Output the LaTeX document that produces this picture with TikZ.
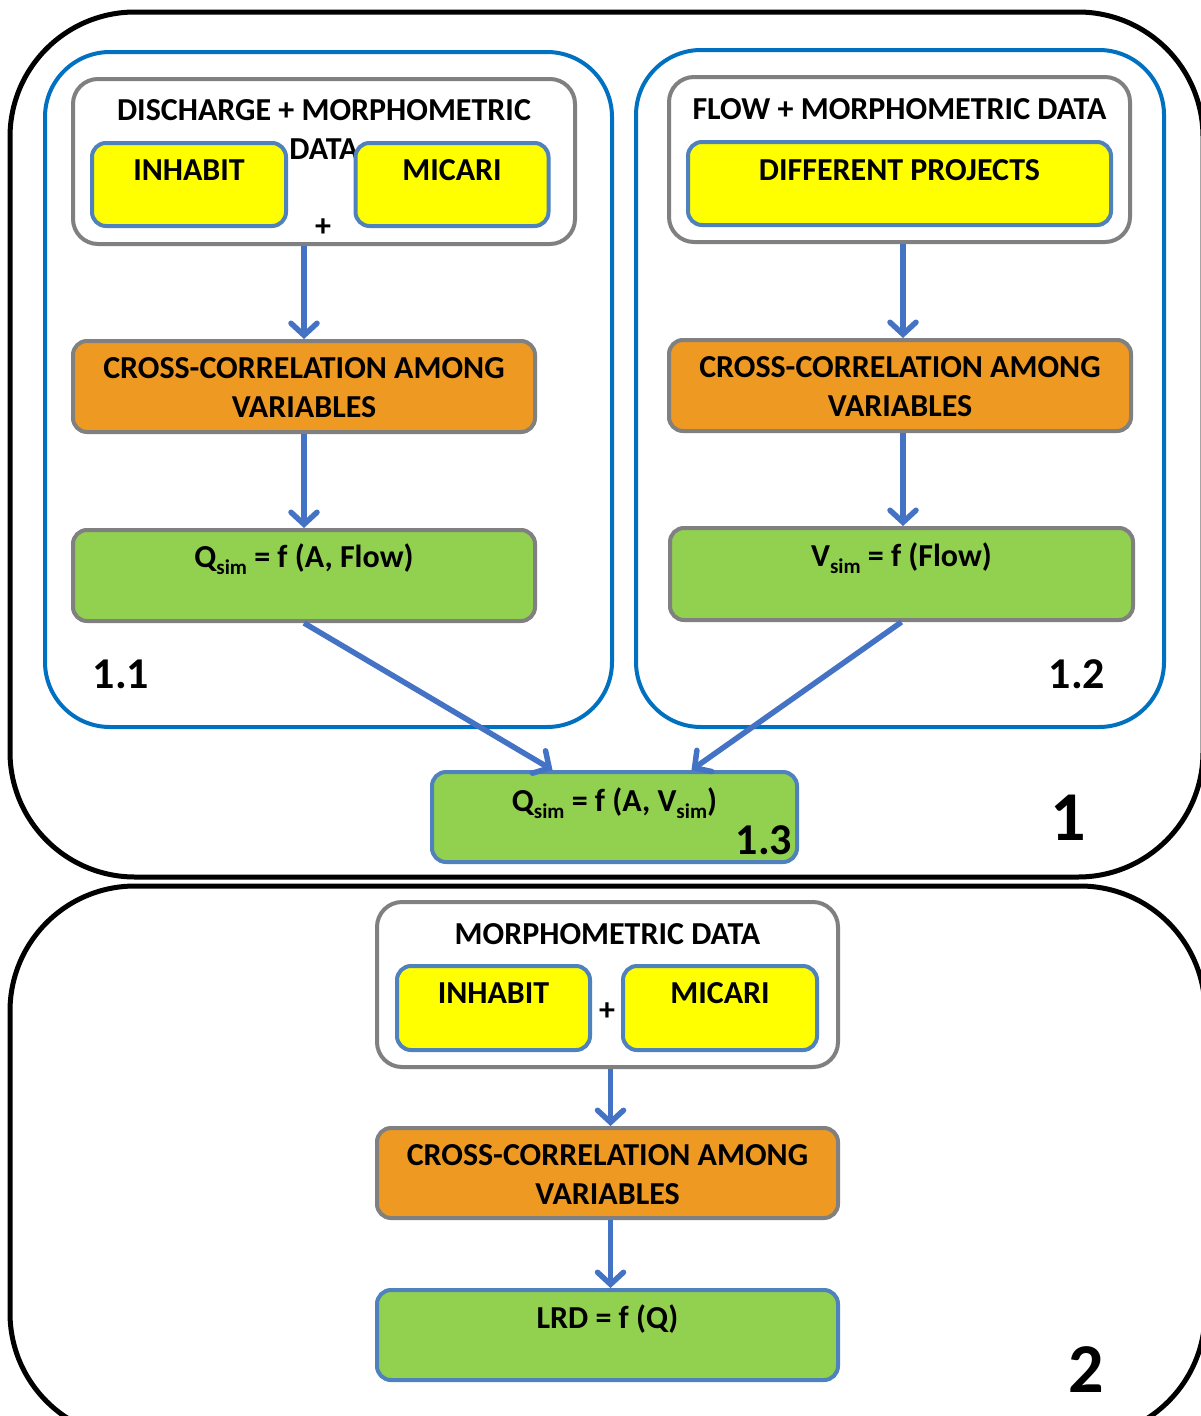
\documentclass[tikz,border=0pt]{standalone}
\usepackage{fontspec}
\setmainfont{Carlito}
\usetikzlibrary{arrows.meta,calc}
\definecolor{outerblue}{RGB}{0,112,192}
\definecolor{boxgray}{RGB}{128,128,128}
\definecolor{yelborder}{RGB}{79,129,189}
\definecolor{arrblue}{RGB}{68,114,196}
\definecolor{orangefill}{RGB}{238,154,34}
\definecolor{greenfill}{RGB}{146,208,80}
\definecolor{yelfill}{RGB}{255,255,0}
\newcommand\mysub[1]{\raisebox{-0.2em}{\fontsize{21}{21}\selectfont #1}}
\tikzset{
  outerbox/.style={draw=black,line width=5pt,rounded corners=125pt,inner sep=0pt},
  bluebox/.style={draw=outerblue,line width=4pt,rounded corners=65pt,inner sep=0pt},
  graybox/.style={draw=boxgray,line width=4pt,fill=white,rounded corners=25pt,inner sep=0pt},
  yelbox/.style={draw=yelborder,line width=4pt,fill=yelfill,rounded corners=14pt,inner sep=0pt},
  orbox/.style={draw=boxgray,line width=4pt,fill=orangefill,rounded corners=14pt,inner sep=0pt},
  grbox/.style={draw=boxgray,line width=4pt,fill=greenfill,rounded corners=14pt,inner sep=0pt},
  gr3box/.style={draw=yelborder,line width=4pt,fill=greenfill,rounded corners=14pt,inner sep=0pt},
  lbl/.style={font=\fontsize{32}{39}\selectfont\bfseries,inner sep=0pt,align=center},
  numlbl/.style={font=\fontsize{44}{44}\selectfont\bfseries,inner sep=0pt},
  biglbl/.style={font=\fontsize{70}{70}\selectfont\bfseries,inner sep=0pt},
  arr/.style={draw=arrblue,line width=5.5pt,-{Straight Barb[length=12pt,width=26pt,line cap=round]}}
}
\begin{document}
\begin{tikzpicture}[x=1pt,y=-1pt]
\useasboundingbox (0,0) rectangle (1200,1416);
\fill[white] (0,0) rectangle (1200,1416);
% outer containers
\node[outerbox,minimum width=1193pt,minimum height=865pt] (out1) at (606.5,444.5) {};
\node[outerbox,minimum width=1195pt,minimum height=552pt] (out2) at (607.5,1162) {};
% blue containers
\node[bluebox,minimum width=567pt,minimum height=675pt] (bl) at (328.5,389.5) {};
\node[bluebox,minimum width=528pt,minimum height=677pt] (br) at (900,388.5) {};
% left column 1.1
\node[graybox,minimum width=502pt,minimum height=165pt] (gl) at (324,161.5) {};
\node[lbl] (gltitle) at (324,130) {DISCHARGE + MORPHOMETRIC\\DATA};
\node[yelbox,minimum width=194pt,minimum height=83pt] (inh1) at (189,184.5) {};
\node[lbl,anchor=north] (inh1t) at (189,160) {INHABIT};
\node[yelbox,minimum width=193pt,minimum height=83pt] (mic1) at (452,184.5) {};
\node[lbl,anchor=north] (mic1t) at (452,159) {MICARI};
\node[lbl] (plus1) at (323,228) {+};
\node[orbox,minimum width=462pt,minimum height=91pt] (ol) at (304,386.5) {};
\node[lbl] (olt) at (304,388) {CROSS-CORRELATION AMONG\\VARIABLES};
\node[grbox,minimum width=462pt,minimum height=91pt] (ql) at (304,575.5) {};
\node[lbl,anchor=north] (qlt) at (304,544) {Q\mysub{sim} = f (A, Flow)};
\node[numlbl] (n11) at (121,674) {1.1};
% right column 1.2
\node[graybox,minimum width=461pt,minimum height=165pt] (gr) at (899.5,159.5) {};
\node[lbl] (grtitle) at (899.5,109) {FLOW + MORPHOMETRIC DATA};
\node[yelbox,minimum width=423pt,minimum height=83pt] (dp) at (899.5,183.5) {};
\node[lbl,anchor=north] (dpt) at (899.5,159) {DIFFERENT PROJECTS};
\node[orbox,minimum width=462pt,minimum height=91pt] (or) at (900,385.5) {};
\node[lbl] (ort) at (900,387) {CROSS-CORRELATION AMONG\\VARIABLES};
\node[grbox,minimum width=463pt,minimum height=92pt] (qr) at (901.5,574) {};
\node[lbl,anchor=north] (qrt) at (901.5,543) {V\mysub{sim} = f (Flow)};
\node[numlbl] (n12) at (1077,674) {1.2};
% 1.3
\node[gr3box,minimum width=365pt,minimum height=90pt] (q3) at (614.5,817) {};
\node[lbl,anchor=north] (q3t) at (614.5,788) {Q\mysub{sim} = f (A, V\mysub{sim})};
\node[numlbl] (n13) at (764,840) {1.3};
\node[biglbl] (n1) at (1068,818) {1};
% section 2
\node[graybox,minimum width=461pt,minimum height=165pt] (g2) at (607.5,984.5) {};
\node[lbl] (g2title) at (607.5,934) {MORPHOMETRIC DATA};
\node[yelbox,minimum width=193pt,minimum height=84pt] (inh2) at (493.5,1008) {};
\node[lbl,anchor=north] (inh2t) at (493.5,983) {INHABIT};
\node[yelbox,minimum width=194pt,minimum height=84pt] (mic2) at (720,1008) {};
\node[lbl,anchor=north] (mic2t) at (720,982) {MICARI};
\node[lbl] (plus2) at (607,1012) {+};
\node[orbox,minimum width=461pt,minimum height=90pt] (o2) at (607.5,1173) {};
\node[lbl] (o2t) at (607.5,1174.5) {CROSS-CORRELATION AMONG\\VARIABLES};
\node[gr3box,minimum width=461pt,minimum height=90pt] (q2) at (607.5,1335) {};
\node[lbl,anchor=north] (q2t) at (607.5,1305) {LRD = f (Q)};
\node[biglbl] (n2) at (1086,1370) {2};
% arrows
\draw[arr] (ol.north |- gl.south) -- (ol.north);
\draw[arr] (ol.south) -- (ql.north);
\draw[arr] ($(or.north |- gr.south)+(3,0)$) -- ($(or.north)+(3,0)$);
\draw[arr] ($(or.south)+(3,0)$) -- ($(or.south |- qr.north)+(3,0)$);
\draw[arr] (ql.south) -- ($(q3.north)+(-62,0)$);
\draw[arr] (qr.south) -- ($(q3.north)+(77,0)$);
\draw[arr] ($(o2.north |- g2.south)+(3,0)$) -- ($(o2.north)+(3,0)$);
\draw[arr] ($(o2.south)+(3,0)$) -- ($(q2.north)+(3,0)$);
\end{tikzpicture}
\end{document}
